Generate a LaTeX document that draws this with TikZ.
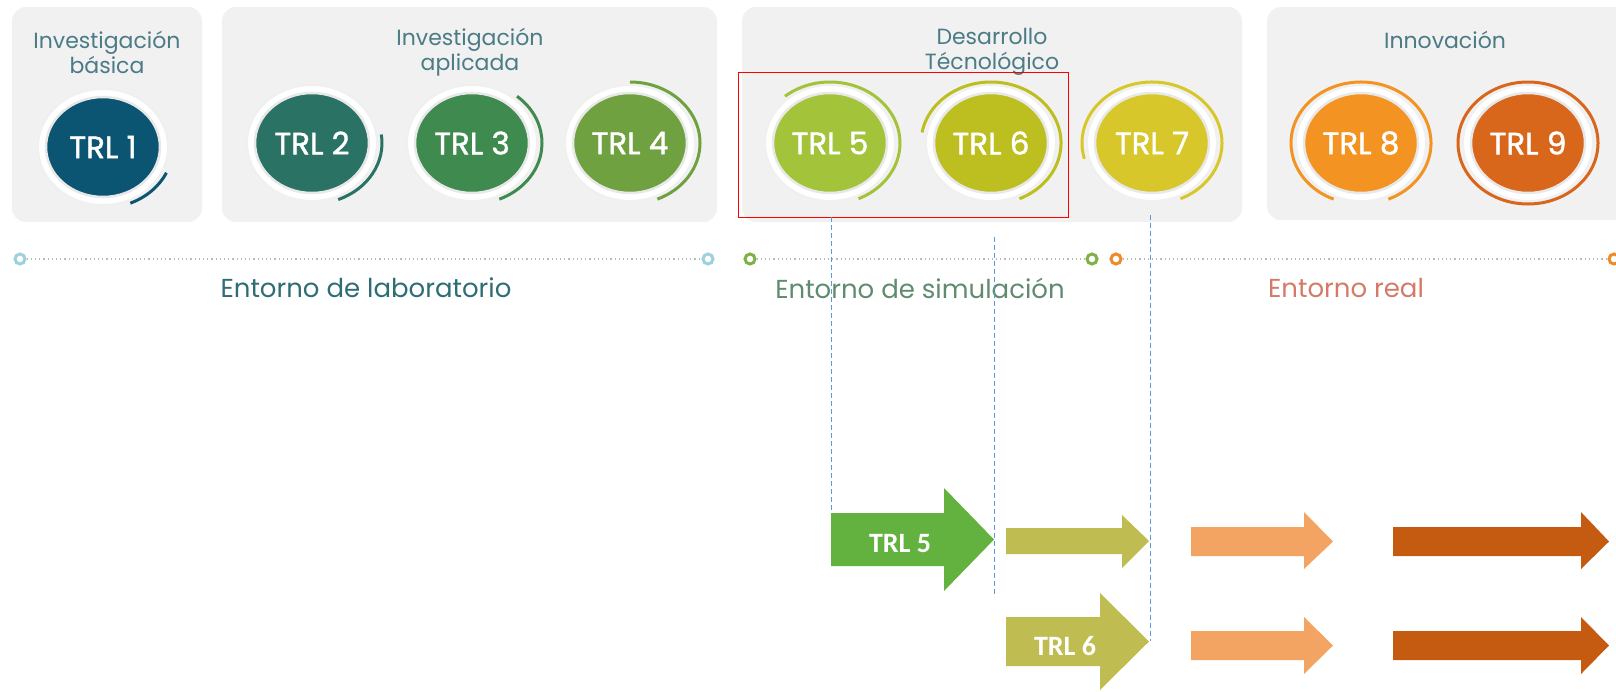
\documentclass[tikz,border=0pt]{standalone}
\usepackage{fontspec}
\setmainfont{Poppins}
\newfontfamily\calib{Carlito}
\newfontfamily\trlfont{Poppins}[FakeBold=1.3]
\usetikzlibrary{shapes.geometric}
\definecolor{panelgray}{HTML}{F1F1F1}
\definecolor{titlecol}{HTML}{4B7B85}
\definecolor{trlA}{HTML}{0B5572}
\definecolor{trlB}{HTML}{2A7263}
\definecolor{trlC}{HTML}{3F8A4F}
\definecolor{trlD}{HTML}{70A140}
\definecolor{trlE}{HTML}{A3C33B}
\definecolor{trlF}{HTML}{BDBE1F}
\definecolor{trlG}{HTML}{D8C72A}
\definecolor{trlH}{HTML}{F39322}
\definecolor{trlI}{HTML}{D8671B}
\definecolor{labblue}{HTML}{9DD1DF}
\definecolor{simgreen}{HTML}{7EB246}
\definecolor{realorange}{HTML}{EE8A2A}
\definecolor{labtext}{HTML}{2F6D75}
\definecolor{simtext}{HTML}{5F8B6E}
\definecolor{realtext}{HTML}{D47B68}
\definecolor{guideblue}{HTML}{5B9BD5}
\definecolor{arrgreen}{HTML}{63B13E}
\definecolor{arrolive}{HTML}{BFBD51}
\definecolor{arrpeach}{HTML}{F4A462}
\definecolor{arrrust}{HTML}{C55A11}
\newcommand\blockarr[8]{\fill[#1] (#2,#3) -- (#5,#3) -- (#5,#6) -- (#8,{(#3+#4)/2}) -- (#5,#7) -- (#5,#4) -- (#2,#4) -- cycle;}
\tikzset{
  panel/.style={fill=panelgray, rounded corners=14pt},
  title/.style={text=titlecol, align=center, font=\fontsize{22}{25}\selectfont},
  halo/.style={fill=white, draw=black!6, line width=2pt},
  ring/.style={line width=3pt},
  trlball/.style={ellipse, minimum width=114pt, minimum height=100pt, inner sep=0pt, text=white, draw=black!9, line width=2.5pt, font=\trlfont\fontsize{31}{31}\selectfont},
  tlmark/.style={circle, fill=white, line width=3pt, minimum size=10pt, inner sep=0pt},
  tldots/.style={gray!55, line width=1.2pt, dash pattern=on 1.2pt off 3pt},
  envlabel/.style={font=\fontsize{26}{26}\selectfont},
  guide/.style={guideblue, line width=1pt, dash pattern=on 5pt off 3pt},
  arrlabel/.style={text=white, font=\calib\bfseries\fontsize{28}{28}\selectfont}
}
\begin{document}
\begin{tikzpicture}[x=1pt, y=-1pt]
\useasboundingbox (0,0) rectangle (1616,691);
\fill[panel] (12,7) rectangle (202,222);
\fill[panel] (222,7) rectangle (717,222);
\fill[panel] (742,7) rectangle (1242,222);
\fill[panel] (1267,7) rectangle (1640,220);
\node[title] (tbas) at (107,52) {Investigación\\básica};
\node[title] (tapl) at (470,52) {Investigación\\aplicada};
\node[title] (tdes) at (992,52) {Desarrollo\\Técnológico};
\node[title] (tinn) at (1445,40) {Innovación};
\foreach \n/\x/\y/\c/\s/\e in {1/103/147/trlA/25/67, 2/312/143/trlB/-8/68, 3/472/143/trlC/-50/67, 4/630/143/trlD/-90/67, 5/830/143/trlE/-130/66, 6/991/143/trlF/-170/66, 7/1152/143/trlG/-195/66, 8/1361/143/trlH/-247/67, 9/1528/143/trlI/0/360}{
  \fill[halo] (\x,\y) ellipse [x radius=65, y radius=58];
  \draw[ring, \c] (\x,\y) ++(\s:70 and 61) arc [start angle=\s, end angle=\e, x radius=70, y radius=61];
  \node[trlball, fill=\c] (trl\n) at (\x,\y) {TRL \n};
}
\draw[red, line width=1pt] (738,72) rectangle (1068,217);
\node[tlmark, draw=labblue] (m1) at (20,259) {};
\node[tlmark, draw=labblue] (m2) at (708,259) {};
\node[tlmark, draw=simgreen] (m3) at (750,259) {};
\node[tlmark, draw=simgreen] (m4) at (1092,259) {};
\node[tlmark, draw=realorange] (m5) at (1116,259) {};
\node[tlmark, draw=realorange] (m6) at (1614,259) {};
\draw[tldots] (m1) -- (m2);
\draw[tldots] (m3) -- (m4);
\draw[tldots] (m5) -- (m6);
\node[envlabel, text=labtext] (elab) at (366,288) {Entorno de laboratorio};
\node[envlabel, text=simtext] (esim) at (920,288) {Entorno de simulación};
\node[envlabel, text=realtext] (ereal) at (1346,288) {Entorno real};
\blockarr{arrgreen}{831}{513}{566}{944}{488}{591}{994}
\blockarr{arrolive}{1006}{528}{554}{1122}{515}{568}{1149}
\blockarr{arrpeach}{1191}{527}{556}{1304}{512}{569}{1333}
\blockarr{arrrust}{1393}{527}{556}{1581}{512}{569}{1609}
\blockarr{arrolive}{1006}{617}{666}{1100}{593}{690}{1149}
\blockarr{arrpeach}{1191}{631}{660}{1304}{617}{674}{1333}
\blockarr{arrrust}{1393}{631}{660}{1581}{617}{674}{1609}
\node[arrlabel] (a5) at (900,544) {TRL 5};
\node[arrlabel] (a6) at (1065,646) {TRL 6};
\coordinate (g5top) at (831,217);
\coordinate (g5bot) at (831,513);
\coordinate (g6top) at (994,237);
\coordinate (g6bot) at (994,597);
\coordinate (g7top) at (1150,215);
\coordinate (g7bot) at (1150,641);
\draw[guide] (g5top) -- (g5bot);
\draw[guide] (g6top) -- (g6bot);
\draw[guide] (g7top) -- (g7bot);
\end{tikzpicture}
\end{document}
